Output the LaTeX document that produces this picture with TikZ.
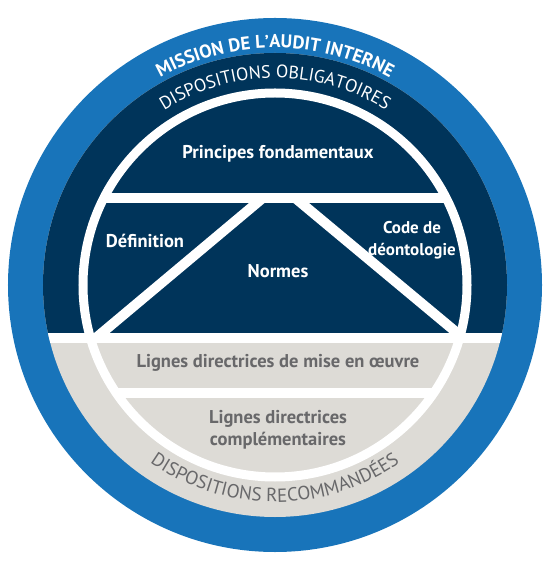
\documentclass[tikz,border=0pt]{standalone}
\usepackage{fontspec}
\setmainfont{PT Sans}
\usetikzlibrary{decorations.text}
\definecolor{iiaBlue}{RGB}{24,116,186}
\definecolor{iiaNavy}{RGB}{0,52,90}
\definecolor{iiaGray}{RGB}{221,219,214}
\definecolor{iiaText}{RGB}{104,104,106}
\begin{document}
\begin{tikzpicture}[x=1pt,y=1pt,
  intext/.style={font=\bfseries\fontsize{18.5}{22}\selectfont, text=white, align=center, inner sep=0pt},
  graytext/.style={intext, text=iiaText},
  wbar/.style={white, line width=10pt},
  ringtext/.style={decorate, decoration={text along path, text align=center, text color=#1}}]
\useasboundingbox (-275,-276) rectangle (275,285);
% outer blue ring
\fill[iiaBlue] (0,0) circle (267);
% inner disk: navy above, gray below, white band between
\begin{scope}
  \clip (0,0) circle (232);
  \fill[iiaGray] (-240,-240) rectangle (240,240);
  \fill[iiaNavy] (-240,-48) rectangle (240,240);
  \fill[white] (-240,-58) rectangle (240,-48);
\end{scope}
% inner bars
\begin{scope}
  \clip (0,0) circle (192);
  \fill[white] (-200,82) rectangle (200,92);
  \fill[white] (-200,-113) rectangle (200,-103);
  \clip (-200,-50) rectangle (200,87);
  \coordinate (dlt) at (-1.5,96);
  \coordinate (dlb) at (-187.5,-60);
  \coordinate (drt) at (9.4,96);
  \coordinate (drb) at (196.6,-60);
  \draw[wbar] (dlt) -- (dlb);
  \draw[wbar] (drt) -- (drb);
\end{scope}
% white circle
\draw[white, line width=9pt] (0,0) circle (192);
% curved texts
\path[ringtext=white, decoration={text={|\bfseries\fontsize{18.5}{18.5}\selectfont|MISSION DE L’AUDIT INTERNE}}]
  (150:237) arc[start angle=150, end angle=30, radius=237];
\path[ringtext=white, decoration={text={|\fontsize{18}{18}\selectfont|DISPOSITIONS OBLIGATOIRES}}]
  (150:207) arc[start angle=150, end angle=30, radius=207];
\path[ringtext=iiaText, decoration={text={|\fontsize{19}{19}\selectfont|DISPOSITIONS RECOMMANDÉES}}]
  (210:217) arc[start angle=210, end angle=330, radius=217];
% inner texts
\node[intext, anchor=base] (pf) at (3,126) {Principes fondamentaux};
\node[intext, anchor=base] (def) at (-130,37) {Définition};
\node[intext, anchor=base] (nor) at (3,7) {Normes};
\node[intext, font=\bfseries\fontsize{17}{21.5}\selectfont] (code) at (137,44.6) {Code de\\déontologie};
\node[graytext, anchor=base] (ldm) at (3,-83) {Lignes directrices de mise en œuvre};
\node[graytext] (ldc) at (3,-144.5) {Lignes directrices\\complémentaires};
\end{tikzpicture}
\end{document}
